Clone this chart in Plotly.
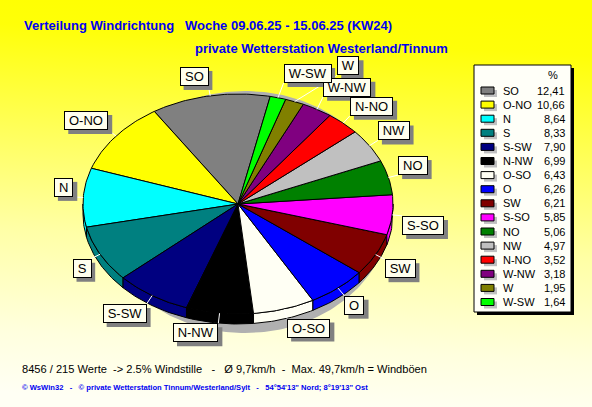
import base64
import numpy as np
import plotly.graph_objects as go

# Wind direction shares (%) for the week, largest first
directions = ["SO", "O-NO", "N", "S", "S-SW", "N-NW", "O-SO", "O",
              "SW", "S-SO", "NO", "NW", "N-NO", "W-NW", "W", "W-SW"]
percent = [12.41, 10.66, 8.64, 8.33, 7.90, 6.99, 6.43, 6.26,
           6.21, 5.85, 5.06, 4.97, 3.52, 3.18, 1.95, 1.64]

title_line1 = "Verteilung Windrichtung\u00a0\u00a0 Woche 09.06.25 - 15.06.25 (KW24)"
title_line2 = "private Wetterstation Westerland/Tinnum"
stats_line = ("8456 / 215 Werte\u00a0 -> 2.5% Windstille\u00a0\u00a0 -\u00a0\u00a0 "
              "Ø 9,7km/h\u00a0 -\u00a0 Max. 49,7km/h = Windböen")
footer_line = ("© WsWin32\u00a0\u00a0 -\u00a0\u00a0 © private Wetterstation "
               "Tinnum/Westerland/Sylt\u00a0\u00a0 -\u00a0\u00a0 54°54'13\" Nord; 8°19'13\" Ost")

# ---- styling -------------------------------------------------------------
slice_colors = ["#808080", "#FFFF00", "#00FFFF", "#008080", "#000080", "#000000",
                "#FFFFF4", "#0000FF", "#800000", "#FF00FF", "#008000", "#C0C0C0",
                "#FF0000", "#800080", "#808000", "#00FF00"]
W, H = 592, 407
CX, CY = 238, 204          # pie centre (px)
RX, RY = 155, 110          # ellipse radii of the tilted pie
DEPTH = 10                 # thickness of the pie rim
START = 78                 # angle where the first slice begins (deg, counter-clockwise)
LABEL_GAP = 10
# small shifts for the crowded labels at the top of the pie
label_nudge = {"W-NW": (1, -4), "W": (39, -17), "W-SW": (3, -5)}
BLUE = "#0000F0"
FONT = "Liberation Sans"

# Arial-compatible glyph widths (em) for sizing the label boxes
glyph_w = {"S": 0.667, "O": 0.778, "N": 0.722, "W": 0.944, "-": 0.333}


def ell(t_deg, rx=RX, ry=RY, dy=0.0):
    t = np.radians(t_deg)
    return CX + rx * np.cos(t), CY - ry * np.sin(t) + dy


fig = go.Figure()

# drop shadow beneath the pie
ts = np.linspace(0, 360, 241)
sx = 245 + 145 * np.cos(np.radians(ts))
sy = 212 - 121 * np.sin(np.radians(ts))
fig.add_trace(go.Scatter(x=sx, y=sy, mode="lines", fill="toself",
                         fillcolor="#B0B0B0", line=dict(width=0, color="#B0B0B0"),
                         hoverinfo="skip", showlegend=False))

total = float(sum(percent))
bounds = START + 360.0 * np.concatenate([[0.0], np.cumsum(percent)]) / total

# rim (side walls) of the front half
for i, c in enumerate(slice_colors):
    lo, hi = max(bounds[i], 180.0), min(bounds[i + 1], 360.0)
    if hi <= lo:
        continue
    tt = np.linspace(lo, hi, max(int(hi - lo) + 2, 3))
    x1, y1 = ell(tt)
    x2, y2 = ell(tt[::-1], dy=DEPTH)
    fig.add_trace(go.Scatter(x=np.concatenate([x1, x2, x1[:1]]),
                             y=np.concatenate([y1, y2, y1[:1]]),
                             mode="lines", fill="toself", fillcolor=c,
                             line=dict(color="black", width=1),
                             hoverinfo="skip", showlegend=False))

# top faces of the slices
for i, c in enumerate(slice_colors):
    t1, t2 = bounds[i], bounds[i + 1]
    tt = np.linspace(t1, t2, max(int(t2 - t1) + 2, 3))
    ax, ay = ell(tt)
    fig.add_trace(go.Scatter(x=np.concatenate([[CX], ax, [CX]]),
                             y=np.concatenate([[CY], ay, [CY]]),
                             mode="lines", fill="toself", fillcolor=c,
                             line=dict(color="black", width=1),
                             hoverinfo="skip", showlegend=False,
                             name=directions[i]))

shapes = []
annotations = []

# slice labels with leader lines
for i, name in enumerate(directions):
    tm = (bounds[i] + bounds[i + 1]) / 2.0
    ex, ey = ell(tm)
    qx, qy = ell(tm, RX + LABEL_GAP, RY + LABEL_GAP)
    nx, ny = label_nudge.get(name, (0, 0))
    qx, qy = qx + nx, qy + ny
    fig.add_trace(go.Scatter(x=[ex, qx], y=[ey, qy], mode="lines",
                             line=dict(color="white", width=1),
                             hoverinfo="skip", showlegend=False))
    right = np.cos(np.radians(tm)) >= 0
    upper = np.sin(np.radians(tm)) >= 0
    bw = sum(glyph_w[ch] for ch in name) * 13 + 10
    bh = 19
    x0 = qx if right else qx - bw
    y0 = qy - bh if upper else qy
    shapes.append(dict(type="rect", xref="x", yref="y", layer="above",
                       x0=x0 + 4, x1=x0 + bw + 4, y0=y0 + 4, y1=y0 + bh + 4,
                       fillcolor="#808080", line=dict(width=0)))
    annotations.append(dict(x=x0, y=y0, xref="x", yref="y", xanchor="left",
                            yanchor="top", text=name, showarrow=False,
                            width=bw - 2, height=bh - 2, borderpad=0,
                            borderwidth=1, bordercolor="black", bgcolor="#FFFFEE",
                            align="center", valign="middle",
                            font=dict(family=FONT, size=13, color="black")))

# legend panel
LX0, LX1, LY0, LY1 = 474, 571, 65, 312
shapes.append(dict(type="rect", xref="x", yref="y", layer="above",
                   x0=LX0 + 3, x1=LX1 + 3, y0=LY0 + 3, y1=LY1 + 3,
                   fillcolor="black", line=dict(width=0)))
shapes.append(dict(type="rect", xref="x", yref="y", layer="above",
                   x0=LX0, x1=LX1, y0=LY0, y1=LY1,
                   fillcolor="#FFFFF8", line=dict(color="black", width=1)))
annotations.append(dict(x=553, y=75, xref="x", yref="y", text="%", showarrow=False,
                        xanchor="center", yanchor="middle",
                        font=dict(family=FONT, size=11, color="black")))
ROW0, ROW_STEP = 90.5, 14.1
for i, (name, val, c) in enumerate(zip(directions, percent, slice_colors)):
    ry = ROW0 + i * ROW_STEP
    shapes.append(dict(type="rect", xref="x", yref="y", layer="above",
                       x0=484, x1=497, y0=ry - 0.5, y1=ry + 6.5,
                       fillcolor="#C0C0C0", line=dict(width=0)))
    shapes.append(dict(type="rect", xref="x", yref="y", layer="above",
                       x0=481, x1=494, y0=ry - 3.5, y1=ry + 3.5,
                       fillcolor=c, line=dict(color="black", width=1)))
    annotations.append(dict(x=501, y=ry, xref="x", yref="y", text=name,
                            showarrow=False, xanchor="left", yanchor="middle",
                            font=dict(family=FONT, size=11, color="black")))
    annotations.append(dict(x=567, y=ry, xref="x", yref="y",
                            text=f"{val:.2f}".replace(".", ","),
                            showarrow=False, xanchor="right", yanchor="middle",
                            font=dict(family=FONT, size=11, color="black")))

# titles and footer texts
annotations.append(dict(x=22, y=25, xref="x", yref="y", text=f"<b>{title_line1}</b>",
                        showarrow=False, xanchor="left", yanchor="middle",
                        font=dict(family=FONT, size=13, color=BLUE)))
annotations.append(dict(x=193, y=48, xref="x", yref="y", text=f"<b>{title_line2}</b>",
                        showarrow=False, xanchor="left", yanchor="middle",
                        font=dict(family=FONT, size=13, color=BLUE)))
annotations.append(dict(x=20, y=369, xref="x", yref="y", text=stats_line,
                        showarrow=False, xanchor="left", yanchor="middle",
                        font=dict(family=FONT, size=11.1, color="black")))
annotations.append(dict(x=20, y=387, xref="x", yref="y", text=f"<b>{footer_line}</b>",
                        showarrow=False, xanchor="left", yanchor="middle",
                        font=dict(family=FONT, size=7.6, color=BLUE)))

# yellow background fading towards the bottom
svg = (f'<svg xmlns="http://www.w3.org/2000/svg" width="{W}" height="{H}" '
       f'preserveAspectRatio="none" viewBox="0 0 {W} {H}">'
       '<defs><linearGradient id="g" x1="0.54" y1="0" x2="0.46" y2="1">'
       '<stop offset="0" stop-color="#FFFF00"/>'
       '<stop offset="0.1" stop-color="#FFFF08"/>'
       '<stop offset="0.35" stop-color="#FFFF58"/>'
       '<stop offset="0.6" stop-color="#FFFFA6"/>'
       '<stop offset="0.85" stop-color="#FFFFDE"/>'
       '<stop offset="1" stop-color="#FFFFF4"/>'
       '</linearGradient></defs>'
       f'<rect width="{W}" height="{H}" fill="url(#g)"/></svg>')
bg_src = "data:image/svg+xml;base64," + base64.b64encode(svg.encode()).decode()

fig.update_layout(
    width=W, height=H, margin=dict(l=0, r=0, t=0, b=0),
    paper_bgcolor="#FFFF60", plot_bgcolor="rgba(0,0,0,0)",
    xaxis=dict(range=[0, W], visible=False, fixedrange=True),
    yaxis=dict(range=[H, 0], visible=False, fixedrange=True),
    shapes=shapes, annotations=annotations, showlegend=False,
    images=[dict(source=bg_src, xref="paper", yref="paper", x=0, y=1,
                 sizex=1, sizey=1, sizing="stretch", layer="below",
                 xanchor="left", yanchor="top")],
)

fig.write_html("out.html")
